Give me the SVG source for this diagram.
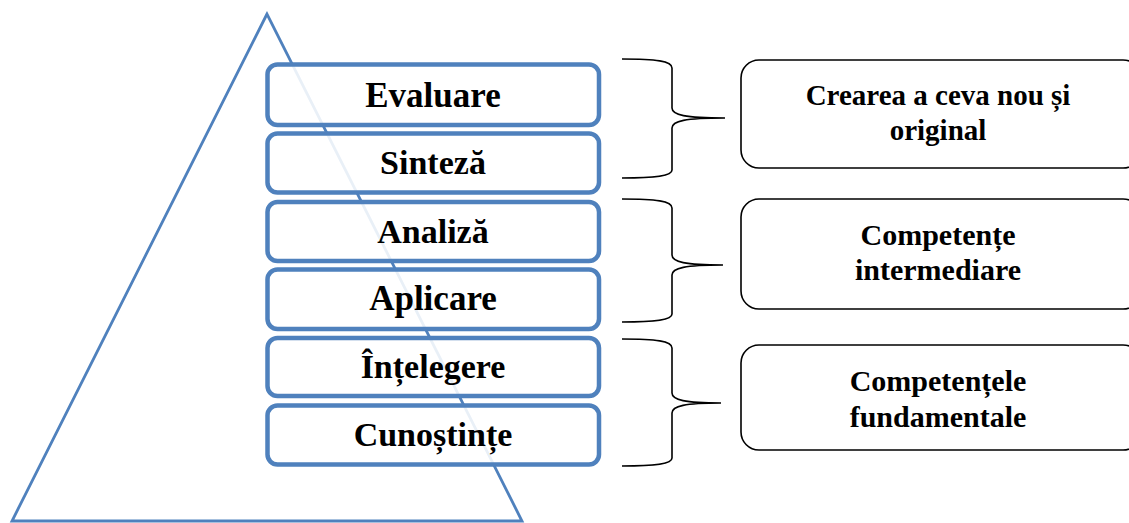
<svg xmlns="http://www.w3.org/2000/svg" width="1129" height="523" viewBox="0 0 1129 523">
  <style>
    .tri { fill: none; stroke: #4F81BD; stroke-width: 2.8; }
    .level { fill: #ffffff; fill-opacity: 0.88; stroke: #4F81BD; stroke-width: 4.5; }
    .level-label { font-family: "Liberation Serif", "Times New Roman", serif; font-weight: bold; font-size: 34px; fill: #000; text-anchor: middle; }
    .brace { fill: none; stroke: #000; stroke-width: 1.6; }
    .group-box { fill: #fff; stroke: #000; stroke-width: 1.6; }
    .group-label { font-family: "Liberation Serif", "Times New Roman", serif; font-weight: bold; font-size: 30px; fill: #000; text-anchor: middle; }
  </style>

  <!-- pyramid outline behind the levels -->
  <polygon id="pyramid" class="tri" points="267,14 12,521 522,521"/>

  <!-- taxonomy levels -->
  <g id="level-evaluare">
    <rect class="level" x="267.5" y="64.5" width="331.5" height="60.5" rx="10"/>
    <text class="level-label" x="433" y="107" style="font-size:35px">Evaluare</text>
  </g>
  <g id="level-sinteza">
    <rect class="level" x="267.5" y="133.5" width="331.5" height="59" rx="10"/>
    <text class="level-label" x="433" y="174">Sinteză</text>
  </g>
  <g id="level-analiza">
    <rect class="level" x="267.5" y="202" width="331.5" height="59" rx="10"/>
    <text class="level-label" x="433" y="243">Analiză</text>
  </g>
  <g id="level-aplicare">
    <rect class="level" x="267.5" y="269.5" width="331.5" height="59.5" rx="10"/>
    <text class="level-label" x="433" y="310" style="font-size:35px">Aplicare</text>
  </g>
  <g id="level-intelegere">
    <rect class="level" x="267.5" y="338" width="331.5" height="58" rx="10"/>
    <text class="level-label" x="433" y="378">Înțelegere</text>
  </g>
  <g id="level-cunostinte">
    <rect class="level" x="267.5" y="405.5" width="331.5" height="59" rx="10"/>
    <text class="level-label" x="433" y="446">Cunoștințe</text>
  </g>

  <!-- braces grouping the levels -->
  <g id="connectors">
    <path class="brace" d="M622,59 C656,59 672,61 672,68 L672,108 C672,115 685,118 725,118 C685,118 672,121 672,128 L672,170 C672,176 656,178 622,178"/>
    <path class="brace" d="M622,199 C656,199 672,201 672,208 L672,255 C672,262 685,265 723,265 C685,265 672,268 672,275 L672,314 C672,320 656,322 622,322"/>
    <path class="brace" d="M622,339 C656,339 672,341 672,348 L672,393 C672,400 685,403 721,403 C685,403 672,406 672,413 L672,458 C672,464 656,466 622,466"/>
  </g>

  <!-- competence groups -->
  <g id="group-creare">
    <rect class="group-box" x="741" y="60" width="400" height="108" rx="18"/>
    <text class="group-label" x="938" y="105" style="font-size:29px">Crearea a ceva nou și</text>
    <text class="group-label" x="938" y="140" style="font-size:29px">original</text>
  </g>
  <g id="group-intermediare">
    <rect class="group-box" x="741" y="199" width="400" height="110" rx="18"/>
    <text class="group-label" x="938" y="245">Competențe</text>
    <text class="group-label" x="938" y="280">intermediare</text>
  </g>
  <g id="group-fundamentale">
    <rect class="group-box" x="741" y="345" width="400" height="105" rx="18"/>
    <text class="group-label" x="938" y="391">Competențele</text>
    <text class="group-label" x="938" y="427">fundamentale</text>
  </g>
</svg>
